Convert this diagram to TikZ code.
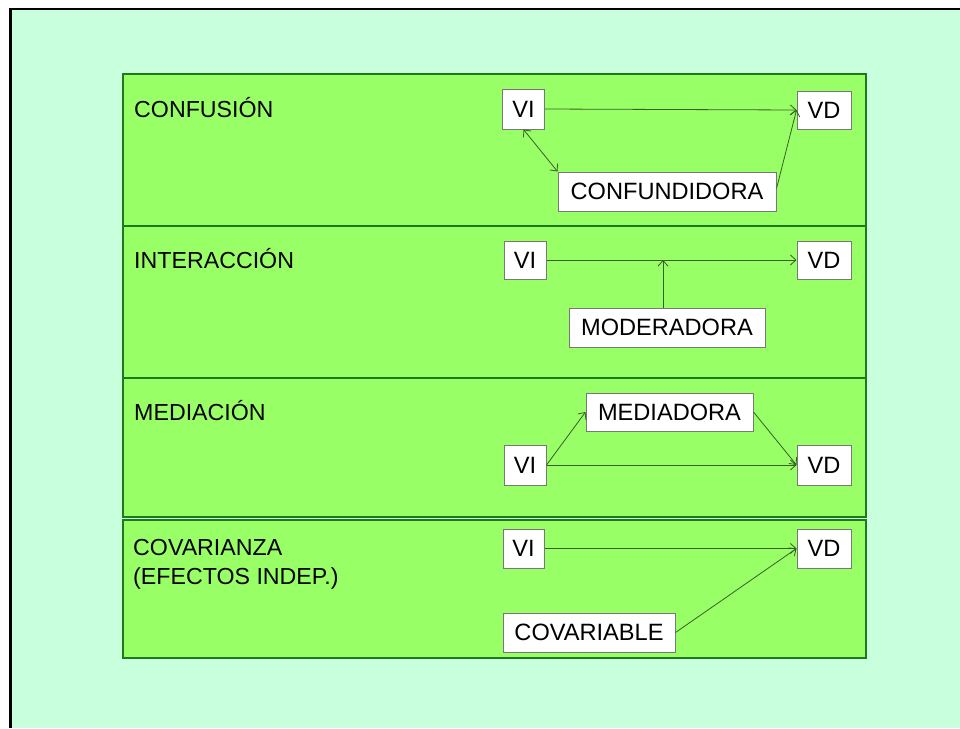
\documentclass[tikz,border=0pt]{standalone}
\usepackage{fontspec}
\setmainfont{Liberation Sans}
\usetikzlibrary{arrows.meta,calc}
\definecolor{mint}{RGB}{200,255,220}
\definecolor{panelgreen}{RGB}{153,255,102}
\definecolor{paneledge}{RGB}{30,120,30}
\definecolor{linkcol}{RGB}{55,95,40}
\definecolor{boxedge}{RGB}{120,120,120}
\tikzset{
  panel/.style={fill=panelgreen, draw=paneledge, line width=2pt},
  varbox/.style={draw=boxedge, fill=white, line width=1pt, inner sep=0pt,
    font=\fontsize{23.6}{28}\selectfont},
  caption/.style={anchor=base west, inner sep=0pt,
    font=\fontsize{23.2}{28}\selectfont},
  link/.style={draw=linkcol, line width=0.8pt, -{Straight Barb[length=5.5pt,width=10pt]}},
  twoway/.style={draw=linkcol, line width=0.8pt,
    {Straight Barb[length=5.5pt,width=10pt]}-{Straight Barb[length=5.5pt,width=10pt]}},
}
\begin{document}
\begin{tikzpicture}[x=1pt,y=-1pt]
\useasboundingbox (0,0) rectangle (960,728);
% page and slide frame
\fill[white] (0,0) rectangle (960,728);
\fill[mint] (10,8) rectangle (960,728);
\draw[black, line width=2.5pt] (10.5,728) -- (10.5,8.8) -- (960,8.8);

% four bands
\draw[panel] (123,74) rectangle (866,226);
\draw[panel] (123,226) rectangle (866,378);
\draw[panel] (123,378) rectangle (866,517);
\draw[panel] (123,520) rectangle (866,658);

% band captions
\node[caption] (lconf) at (134,117) {CONFUSIÓN};
\node[caption] (linter) at (134,268) {INTERACCIÓN};
\node[caption] (lmed) at (134,420) {MEDIACIÓN};
\node[caption] (lcov) at (133,555) {COVARIANZA};
\node[caption] (lcovb) at (133,584) {(EFECTOS INDEP.)};

% confusion
\node[varbox, minimum width=42pt, minimum height=40pt] (vi1) at (523.5,109) {VI};
\node[varbox, minimum width=54pt, minimum height=38pt] (vd1) at (824,110) {VD};
\node[varbox, minimum width=218pt, minimum height=39pt] (cf) at (667,191.5) {CONFUNDIDORA};
\draw[link] (vi1.east) -- (vd1.west);
\draw[twoway] (vi1.south) -- (cf.north west);
\draw[link] ($(cf.east)+(0,-3)$) -- (vd1.west);

% interaction
\node[varbox, minimum width=42pt, minimum height=38pt] (vi2) at (525,260) {VI};
\node[varbox, minimum width=54pt, minimum height=38pt] (vd2) at (824,260) {VD};
\node[varbox, minimum width=196pt, minimum height=39pt] (mod) at (667,327.5) {MODERADORA};
\draw[link] (vi2.east) -- (vd2.west);
\draw[link] (mod.north -| 663,0) -- (663,0 |- vi2.east);

% mediation
\node[varbox, minimum width=167pt, minimum height=38pt] (med) at (669.5,412) {MEDIADORA};
\node[varbox, minimum width=42pt, minimum height=40pt] (vi3) at (525,465) {VI};
\node[varbox, minimum width=54pt, minimum height=40pt] (vd3) at (824,465) {VD};
\draw[link] (vi3.east) -- (med.west);
\draw[link] (med.east) -- (vd3.west);
\draw[link] (vi3.east) -- (vd3.west);

% covariance
\node[varbox, minimum width=41pt, minimum height=39pt] (vi4) at (523.5,548.5) {VI};
\node[varbox, minimum width=54pt, minimum height=39pt] (vd4) at (824,548.5) {VD};
\node[varbox, minimum width=172pt, minimum height=39pt] (cov) at (589,632.5) {COVARIABLE};
\draw[link] (vi4.east) -- (vd4.west);
\draw[link] (cov.east) -- (vd4.west);
\end{tikzpicture}
\end{document}
